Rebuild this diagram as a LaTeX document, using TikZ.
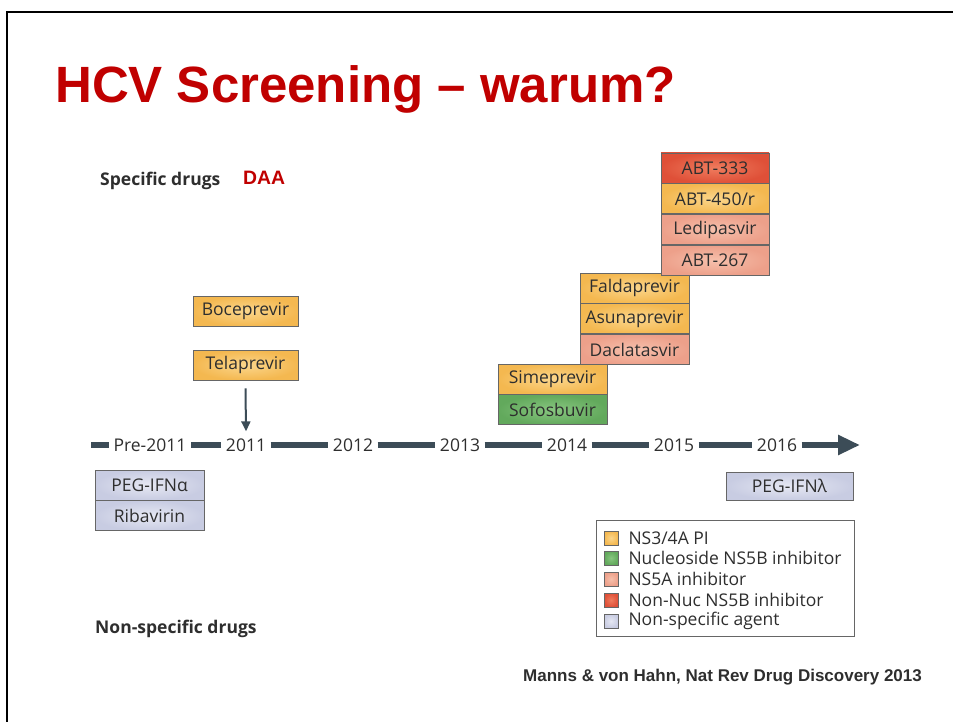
\documentclass[tikz,border=0pt]{standalone}
\usepackage{fontspec}
\setmainfont{Open Sans}
\newfontfamily\slidefont{Liberation Sans}
\usetikzlibrary{positioning, arrows.meta}

\definecolor{titlered}{HTML}{C00000}
\definecolor{labelgray}{HTML}{2E2E2E}
\definecolor{boxline}{HTML}{666666}
\definecolor{tlblue}{HTML}{3C4C57}
\definecolor{piin}{HTML}{FBD68C}
\definecolor{piout}{HTML}{F4B850}
\definecolor{nucin}{HTML}{88C680}
\definecolor{nucout}{HTML}{62A95C}
\definecolor{nsain}{HTML}{F6C0AC}
\definecolor{nsaout}{HTML}{EDA08A}
\definecolor{nnin}{HTML}{EF7C5E}
\definecolor{nnout}{HTML}{DF5038}
\definecolor{nsin}{HTML}{E6E8F3}
\definecolor{nsout}{HTML}{C8CCE2}

\begin{document}
\begin{tikzpicture}[x=1pt, y=-1pt,
    lbl/.style={font=\fontsize{17.5}{20}\selectfont, text=labelgray},
    drug/.style={lbl, draw=boxline, line width=0.8pt, minimum height=30pt,
      inner sep=0pt},
    pi/.style={drug, inner color=piin, outer color=piout},
    nuc/.style={drug, inner color=nucin, outer color=nucout},
    nsa/.style={drug, inner color=nsain, outer color=nsaout},
    nonnuc/.style={drug, inner color=nnin, outer color=nnout},
    nonspec/.style={drug, inner color=nsin, outer color=nsout},
    year/.style={lbl, inner xsep=4.5pt, inner ysep=2pt},
    tline/.style={draw=tlblue, line width=5.5pt},
    legsq/.style={draw=boxline, line width=0.6pt, minimum size=14pt,
      inner sep=0pt},
    legtext/.style={lbl, inner sep=0pt, anchor=west},
    group/.style={font=\fontsize{17.5}{20}\selectfont\bfseries,
      text=labelgray, anchor=west, inner sep=0pt}]
  \useasboundingbox (0,0) rectangle (953,722);

  % slide frame and title
  \draw[line width=2pt] (7,722) -- (7,12) -- (953,12);
  \node[anchor=base west, inner sep=0pt, text=titlered,
    font=\slidefont\fontsize{51}{60}\selectfont\bfseries]
    (title) at (55,103) {HCV Screening – warum?};

  \node[group] (specific) at (100,181) {Specific drugs};
  \node[anchor=base west, inner sep=0pt, text=titlered,
    font=\slidefont\fontsize{19.4}{22}\selectfont\bfseries]
    (daa) at (243,185) {DAA};
  \node[group] (nonspecific) at (95,629) {Non-specific drugs};

  % time line
  \coordinate (tlstart) at (91,445);
  \coordinate (tlend) at (860,445);
  \node[year] (pre) at (150,445) {Pre-2011};
  \node[year] (y2011) at (246,445) {2011};
  \node[year] (y2012) at (353,445) {2012};
  \node[year] (y2013) at (460,445) {2013};
  \node[year] (y2014) at (567,445) {2014};
  \node[year] (y2015) at (674,445) {2015};
  \node[year] (y2016) at (777,445) {2016};
  \draw[tline] (tlstart) -- (pre);
  \foreach \a/\b in {pre/y2011, y2011/y2012, y2012/y2013, y2013/y2014,
      y2014/y2015, y2015/y2016}
    \draw[tline] (\a) -- (\b);
  \draw[tline, -{Triangle[length=22pt, width=19pt]}] (y2016) -- (tlend);

  % 2011
  \node[pi, minimum width=105pt] (boc) at (245.5,311) {Boceprevir};
  \node[pi, minimum width=105pt] (tel) at (245.5,365) {Telaprevir};
  \draw[draw=tlblue, line width=2pt, -{Triangle[length=10pt, width=9pt]}]
    ([yshift=-8pt]tel.south) -- ([yshift=5pt]y2011.north);

  % 2014
  \node[pi, minimum width=109pt] (sim) at (552.5,379) {Simeprevir};
  \node[nuc, minimum width=109pt, below=0pt of sim] (sof) {Sofosbuvir};

  % 2015
  \node[pi, minimum width=109pt] (fal) at (634.5,288) {Faldaprevir};
  \node[pi, minimum width=109pt, below=0pt of fal] (asu) {Asunaprevir};
  \node[nsa, minimum width=109pt, below=0pt of asu] (dac) {Daclatasvir};

  % 2016
  \node[nonnuc, minimum width=108pt] (abt333) at (715,168) {ABT-333};
  \node[pi, minimum width=108pt, below=0pt of abt333] (abt450) {ABT-450/r};
  \node[nsa, minimum width=108pt, below=0pt of abt450] (ledi) {Ledipasvir};
  \node[nsa, minimum width=108pt, below=0pt of ledi] (abt267) {ABT-267};

  % non-specific
  \node[nonspec, minimum width=109pt] (pegifna) at (149.5,485) {PEG-IFNα};
  \node[nonspec, minimum width=109pt, below=0pt of pegifna] (riba) {Ribavirin};
  \node[nonspec, minimum width=127pt, minimum height=28pt]
    (pegifnl) at (789.5,486) {PEG-IFNλ};

  % legend
  \draw[draw=boxline, line width=0.8pt] (596,520) rectangle (854,636);
  \node[legsq, inner color=piin, outer color=piout] (l1) at (611,538) {};
  \node[legsq, inner color=nucin, outer color=nucout] (l2) at (611,558) {};
  \node[legsq, inner color=nsain, outer color=nsaout] (l3) at (611,579) {};
  \node[legsq, inner color=nnin, outer color=nnout] (l4) at (611,600) {};
  \node[legsq, inner color=nsin, outer color=nsout] (l5) at (611,621) {};
  \node[legtext, right=10pt of l1] (t1) {NS3/4A PI};
  \node[legtext, right=10pt of l2] (t2) {Nucleoside NS5B inhibitor};
  \node[legtext, right=10pt of l3] (t3) {NS5A inhibitor};
  \node[legtext, right=10pt of l4] (t4) {Non-Nuc NS5B inhibitor};
  \node[legtext, right=10pt of l5] (t5) {Non-specific agent};

  \node[anchor=base west, inner sep=0pt, text=labelgray,
    font=\slidefont\fontsize{17}{20}\selectfont\bfseries]
    (source) at (523,681) {Manns \& von Hahn, Nat Rev Drug Discovery 2013};
\end{tikzpicture}
\end{document}
